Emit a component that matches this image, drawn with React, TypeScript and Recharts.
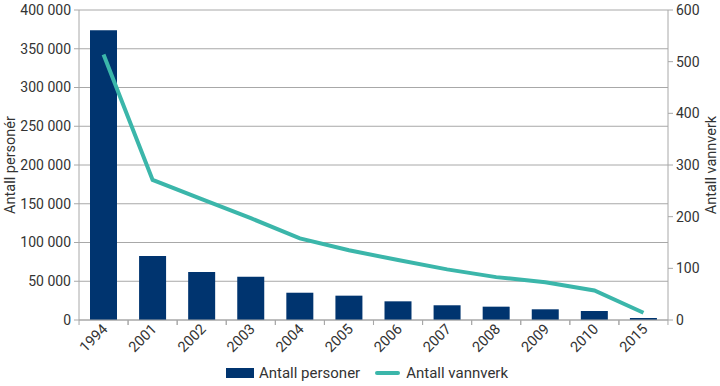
import { ComposedChart, Bar, Line, XAxis, YAxis, CartesianGrid, Legend } from "recharts";

const years = ["1994", "2001", "2002", "2003", "2004", "2005", "2006", "2007", "2008", "2009", "2010", "2015"];
const persons = [374000, 82600, 61900, 55900, 35200, 31400, 24100, 19000, 17200, 13800, 11600, 2600];
const waterworks = [514, 271, 234, 197, 158, 135, 116, 98, 83, 73, 57, 14];
const leftTicks = [0, 50000, 100000, 150000, 200000, 250000, 300000, 350000, 400000];
const rightTicks = [0, 100, 200, 300, 400, 500, 600];

const BAR = "#00346f";
const LINE = "#3bb6aa";
const GRID = "#a8a8a8";
const TEXT = "#333333";
const FONT = "Roboto, sans-serif";

const data = years.map((year, i) => ({ year, persons: persons[i], waterworks: waterworks[i] }));

const fmt = (v: number) => String(v).replace(/\B(?=(\d{3})+(?!\d))/g, " ");

const HALF_BAND = 24.5;

function YearTick({ x, y, payload }: any) {
  return (
    <g>
      <line x1={x - HALF_BAND} x2={x - HALF_BAND} y1={y} y2={y + 5} stroke={GRID} />
      <line x1={x + HALF_BAND} x2={x + HALF_BAND} y1={y} y2={y + 5} stroke={GRID} />
      <text
        x={x + 5}
        y={y + 10}
        textAnchor="end"
        fill={TEXT}
        fontSize={14.5}
        fontFamily={FONT}
        transform={`rotate(-45, ${x + 5}, ${y + 10})`}
      >
        {payload.value}
      </text>
    </g>
  );
}

function AxisTitle({ viewBox, value, dx }: any) {
  const cx = viewBox.x + dx;
  const cy = viewBox.y + viewBox.height / 2;
  return (
    <text
      x={cx}
      y={cy}
      transform={`rotate(-90, ${cx}, ${cy})`}
      textAnchor="middle"
      dominantBaseline="central"
      fill={TEXT}
      fontSize={14.5}
      fontFamily={FONT}
    >
      {value}
    </text>
  );
}

function LegendBox() {
  return (
    <div
      style={{
        display: "flex",
        alignItems: "center",
        justifyContent: "center",
        paddingLeft: 14,
        fontFamily: FONT,
        fontSize: 15,
        color: TEXT,
        height: 26,
      }}
    >
      <span style={{ width: 28, height: 10, background: BAR, marginRight: 5 }} />
      <span>Antall personer</span>
      <span style={{ width: 25, height: 4, background: LINE, marginLeft: 15, marginRight: 6, borderRadius: 2 }} />
      <span>Antall vannverk</span>
    </div>
  );
}

export default function App() {
  return (
    <div style={{ position: "absolute", left: 0, top: 0, background: "#fff" }}>
      <ComposedChart width={720} height={386} data={data} margin={{ top: 10, right: 0, left: 0, bottom: 0 }}>
        <CartesianGrid yAxisId="left" vertical={false} stroke={GRID} />
        <XAxis
          dataKey="year"
          height={40}
          stroke={GRID}
          tickLine={false}
          tickSize={0}
          tickMargin={0}
          interval={0}
          tick={<YearTick />}
        />
        <YAxis
          yAxisId="left"
          width={79}
          domain={[0, 400000]}
          ticks={leftTicks}
          tickFormatter={fmt}
          stroke={GRID}
          tickSize={5}
          tickMargin={3}
          tick={{ fill: TEXT, fontSize: 14, fontFamily: FONT }}
          label={<AxisTitle value="Antall personér" dx={10} />}
        />
        <YAxis
          yAxisId="right"
          orientation="right"
          width={52}
          domain={[0, 600]}
          ticks={rightTicks}
          stroke={GRID}
          tickSize={5}
          tickMargin={3}
          tick={{ fill: TEXT, fontSize: 14, fontFamily: FONT }}
          label={<AxisTitle value="Antall vannverk" dx={43} />}
        />
        <Bar yAxisId="left" dataKey="persons" fill={BAR} barSize={27} isAnimationActive={false} />
        <Line
          yAxisId="right"
          dataKey="waterworks"
          stroke={LINE}
          strokeWidth={4}
          dot={false}
          type="linear"
          isAnimationActive={false}
        />
        <Legend verticalAlign="bottom" height={26} content={<LegendBox />} />
      </ComposedChart>
    </div>
  );
}
